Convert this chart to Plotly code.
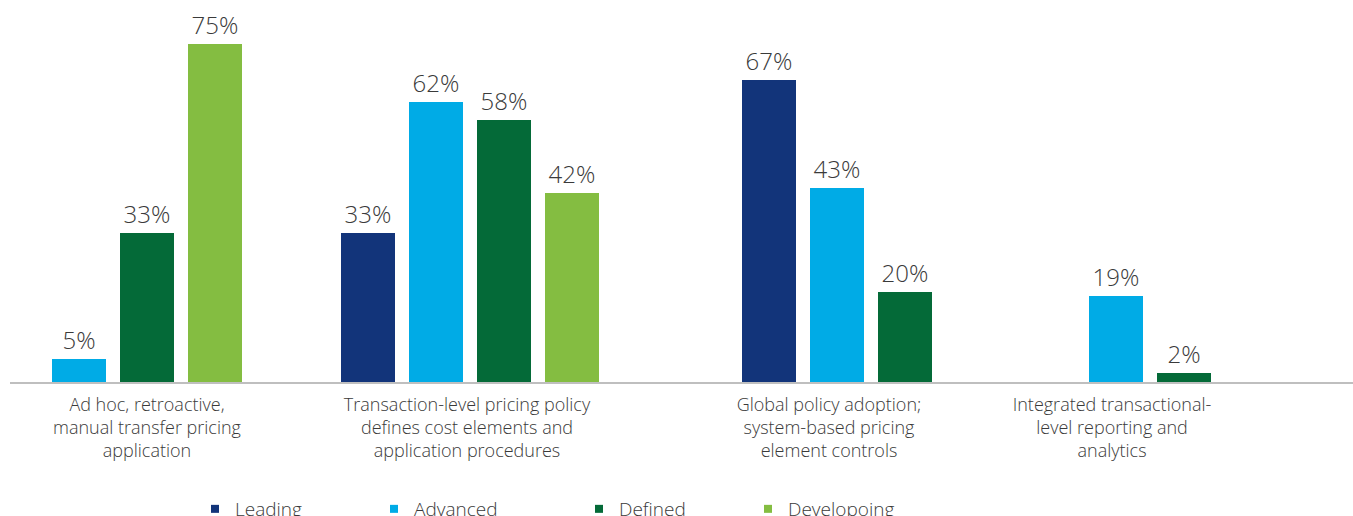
import plotly.graph_objects as go

categories = [
    "Ad hoc, retroactive,<br>manual transfer pricing<br>application",
    "Transaction-level pricing policy<br>defines cost elements and<br>application procedures",
    "Global policy adoption;<br>system-based pricing<br>element controls",
    "Integrated transactional-<br>level reporting and<br>analytics",
]
series_names = ["Leading", "Advanced", "Defined", "Developoing"]
leading = [None, 33, 67, None]
advanced = [5, 62, 43, 19]
defined = [33, 58, 20, 2]
developing = [75, 42, None, None]

# layout constants (pixel-like x units)
group_centers = [147, 469.5, 837, 1149.5]
label_centers = [147, 467, 829, 1112]
slot_step = 68
bar_width = 54
colors = ["#12347A", "#00ABE6", "#046A38", "#84BD41"]
legend_x_px = [195, 374, 579, 748]
text_color = "#3a3a3a"

values = [leading, advanced, defined, developing]
legend_ids = ["legend", "legend2", "legend3", "legend4"]

fig = go.Figure()
for si, (name, vals, col) in enumerate(zip(series_names, values, colors)):
    xs, ys = [], []
    for ci in range(len(categories)):
        present = [k for k in range(4) if values[k][ci] is not None]
        if vals[ci] is None:
            continue
        idx = present.index(si)
        offset = (idx - (len(present) - 1) / 2) * slot_step
        xs.append(group_centers[ci] + offset)
        ys.append(vals[ci])
    fig.add_trace(go.Bar(
        x=xs, y=ys, name=name, width=bar_width,
        marker=dict(color=col, line=dict(width=0)),
        texttemplate="%{y}%", textposition="outside",
        textfont=dict(size=24, color=text_color, family="Open Sans", weight=300),
        cliponaxis=False, showlegend=False,
    ))
    # legend entry with a small square swatch
    fig.add_trace(go.Scatter(
        x=[None], y=[None], mode="markers", name=name,
        marker=dict(symbol="square", size=8, color=col),
        showlegend=True, hoverinfo="skip", legend=legend_ids[si],
    ))

legend_common = dict(
    orientation="h", xref="container", yref="container",
    y=1 - 490 / 516, xanchor="left", yanchor="top",
    font=dict(size=19, color=text_color, family="Open Sans", weight=300),
    itemwidth=30, bgcolor="rgba(0,0,0,0)",
)

layout_legends = {}
for lid, lx in zip(legend_ids, legend_x_px):
    layout_legends[lid] = dict(legend_common, x=lx / 1353)

fig.update_layout(
    width=1353, height=516,
    margin=dict(l=0, r=0, t=0, b=134),
    plot_bgcolor="white", paper_bgcolor="white",
    barmode="overlay",
    font=dict(family="Open Sans", color=text_color),
    xaxis=dict(
        domain=[10 / 1353, 1], range=[10, 1353],
        tickvals=label_centers, ticktext=categories,
        showline=True, linecolor="#BFBFBF", linewidth=2,
        showgrid=False, zeroline=False, ticks="",
        ticklabelstandoff=5,
        tickfont=dict(size=18, color=text_color, family="Open Sans", weight=300),
    ),
    yaxis=dict(range=[0, 84.7], visible=False, showgrid=False, zeroline=False),
    bargap=0,
    **layout_legends,
)

fig.write_html("out.html")
